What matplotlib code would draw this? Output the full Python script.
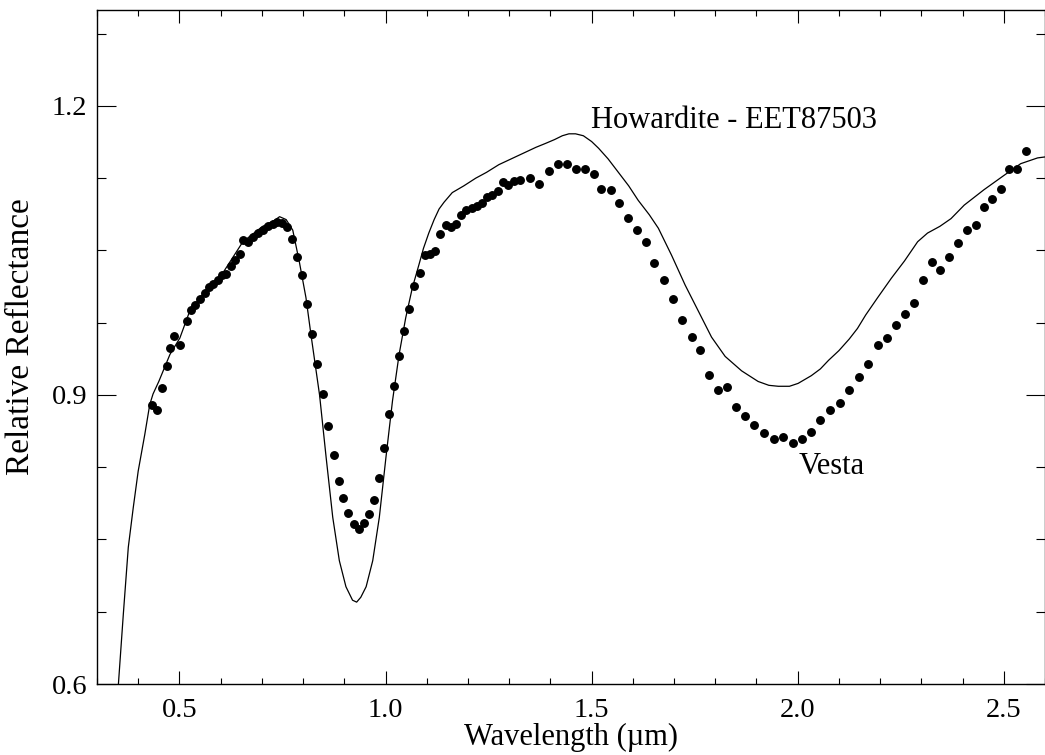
"""
Vesta vs Howardite (EET87503) reflectance spectra
"""

import matplotlib
matplotlib.use('Agg')
import matplotlib.pyplot as plt
from matplotlib.ticker import MultipleLocator, FixedLocator, FormatStrFormatter

plt.rcParams['font.family'] = ['Liberation Serif', 'DejaVu Serif']

# ── Howardite EET87503 (lab spectrum, solid line) ───────────────
how_wl = [0.352, 0.364, 0.376, 0.388, 0.400, 0.416, 0.428, 0.436, 0.450,
          0.477, 0.501, 0.525, 0.565, 0.606, 0.654, 0.702, 0.730, 0.743,
          0.759, 0.775, 0.791, 0.807, 0.819, 0.840, 0.856, 0.872, 0.888,
          0.904, 0.920, 0.930, 0.940, 0.953, 0.969, 0.985, 1.001, 1.017,
          1.033, 1.049, 1.065, 1.081, 1.092, 1.105, 1.118, 1.130, 1.142,
          1.162, 1.190, 1.219, 1.245, 1.275, 1.305, 1.340, 1.365, 1.388,
          1.410, 1.429, 1.445, 1.461, 1.480, 1.500, 1.517, 1.540, 1.565,
          1.590, 1.613, 1.640, 1.662, 1.694, 1.727, 1.759, 1.791, 1.824,
          1.864, 1.904, 1.930, 1.953, 1.980, 2.001, 2.033, 2.055, 2.075,
          2.100, 2.125, 2.145, 2.165, 2.194, 2.227, 2.259, 2.291, 2.315,
          2.345, 2.372, 2.404, 2.452, 2.501, 2.541, 2.582, 2.600]
how_refl = [0.600, 0.673, 0.742, 0.783, 0.821, 0.859, 0.890, 0.901, 0.914,
            0.942, 0.959, 0.987, 1.009, 1.027, 1.059, 1.075, 1.081, 1.085,
            1.082, 1.071, 1.038, 1.001, 0.963, 0.900, 0.835, 0.773, 0.728,
            0.701, 0.687, 0.685, 0.690, 0.701, 0.728, 0.773, 0.835, 0.894,
            0.942, 0.980, 1.011, 1.035, 1.052, 1.068, 1.082, 1.093, 1.100,
            1.110, 1.117, 1.125, 1.131, 1.139, 1.145, 1.152, 1.157, 1.161,
            1.165, 1.169, 1.171, 1.171, 1.169, 1.163, 1.156, 1.145, 1.131,
            1.117, 1.102, 1.087, 1.073, 1.045, 1.014, 0.987, 0.960, 0.940,
            0.925, 0.914, 0.910, 0.909, 0.909, 0.912, 0.920, 0.927, 0.936,
            0.946, 0.958, 0.969, 0.983, 1.001, 1.021, 1.039, 1.059, 1.068,
            1.075, 1.083, 1.097, 1.113, 1.128, 1.140, 1.146, 1.147]

# ── Vesta (telescopic spectrum, dots) ───────────────────────────
vesta_wl = [0.433, 0.446, 0.458, 0.469, 0.478, 0.488, 0.501, 0.518, 0.529,
            0.539, 0.550, 0.561, 0.571, 0.581, 0.593, 0.604, 0.614, 0.624,
            0.636, 0.647, 0.654, 0.666, 0.678, 0.690, 0.702, 0.715, 0.726,
            0.737, 0.749, 0.762, 0.773, 0.785, 0.797, 0.810, 0.821, 0.835,
            0.849, 0.861, 0.874, 0.886, 0.898, 0.910, 0.923, 0.935, 0.947,
            0.959, 0.972, 0.984, 0.996, 1.009, 1.020, 1.032, 1.044, 1.058,
            1.070, 1.083, 1.095, 1.107, 1.120, 1.133, 1.146, 1.158, 1.171,
            1.184, 1.196, 1.209, 1.222, 1.234, 1.246, 1.259, 1.272, 1.285,
            1.297, 1.311, 1.326, 1.351, 1.373, 1.396, 1.418, 1.440, 1.461,
            1.484, 1.506, 1.524, 1.546, 1.566, 1.588, 1.609, 1.631, 1.652,
            1.675, 1.698, 1.719, 1.743, 1.763, 1.785, 1.806, 1.828, 1.850,
            1.873, 1.895, 1.919, 1.943, 1.965, 1.989, 2.010, 2.032, 2.055,
            2.078, 2.102, 2.125, 2.149, 2.171, 2.194, 2.216, 2.238, 2.261,
            2.283, 2.303, 2.325, 2.346, 2.367, 2.389, 2.410, 2.432, 2.452,
            2.472, 2.493, 2.512, 2.532, 2.553]
vesta_refl = [0.890, 0.884, 0.907, 0.930, 0.949, 0.961, 0.952, 0.977, 0.988,
              0.993, 1.000, 1.006, 1.012, 1.015, 1.019, 1.025, 1.026, 1.034,
              1.040, 1.046, 1.061, 1.059, 1.064, 1.068, 1.071, 1.075, 1.077,
              1.079, 1.078, 1.074, 1.062, 1.043, 1.024, 0.994, 0.963, 0.932,
              0.901, 0.868, 0.838, 0.811, 0.793, 0.778, 0.766, 0.761, 0.767,
              0.776, 0.791, 0.814, 0.845, 0.880, 0.909, 0.940, 0.966, 0.989,
              1.013, 1.027, 1.045, 1.046, 1.049, 1.067, 1.076, 1.074, 1.077,
              1.087, 1.092, 1.094, 1.096, 1.099, 1.105, 1.108, 1.112, 1.121,
              1.118, 1.122, 1.123, 1.125, 1.119, 1.132, 1.140, 1.140, 1.134,
              1.135, 1.129, 1.114, 1.113, 1.099, 1.084, 1.071, 1.059, 1.037,
              1.019, 1.000, 0.978, 0.960, 0.947, 0.921, 0.905, 0.908, 0.888,
              0.878, 0.869, 0.861, 0.854, 0.856, 0.850, 0.854, 0.862, 0.874,
              0.884, 0.892, 0.905, 0.919, 0.932, 0.952, 0.959, 0.973, 0.984,
              0.995, 1.019, 1.038, 1.030, 1.043, 1.058, 1.071, 1.076, 1.095,
              1.103, 1.114, 1.135, 1.135, 1.153]

Y_MAJOR = [0.6, 0.9, 1.2]

fig = plt.figure(figsize=(10.45, 7.55), dpi=100)
ax = fig.add_axes([0.0928, 0.094, 0.9072, 0.8934])

ax.plot(how_wl, how_refl, color='black', linewidth=0.9)
ax.plot(vesta_wl, vesta_refl, linestyle='none', marker='o',
        markersize=5.4, color='black')

ax.text(1.498, 1.177, 'Howardite - EET87503', fontsize=22)
ax.text(2.002, 0.818, 'Vesta', fontsize=22)

ax.set_xlim(0.3, 2.6)
ax.set_ylim(0.6, 1.3)

ax.xaxis.set_major_locator(MultipleLocator(0.5))
ax.xaxis.set_minor_locator(MultipleLocator(0.1))
ax.yaxis.set_major_locator(FixedLocator(Y_MAJOR))
ax.yaxis.set_minor_locator(MultipleLocator(0.075))
ax.xaxis.set_major_formatter(FormatStrFormatter('%.1f'))
ax.yaxis.set_major_formatter(FormatStrFormatter('%.1f'))

ax.tick_params(axis='both', which='both', direction='in',
               top=True, right=True, width=0.8, labelsize=20.5)
ax.tick_params(axis='x', which='major', length=9.1, pad=10)
ax.tick_params(axis='x', which='minor', length=4.3)
ax.tick_params(axis='y', which='major', length=13.7, pad=7)
ax.tick_params(axis='y', which='minor', length=6.5)
for s in ax.spines.values():
    s.set_linewidth(1.0)

ax.set_xlabel('Wavelength (\u00b5m)', fontsize=22, labelpad=0)
ax.set_ylabel('Relative Reflectance', fontsize=24)
ax.yaxis.set_label_coords(-0.064, 0.515)

plt.savefig('out.png', dpi=100)
plt.close()
